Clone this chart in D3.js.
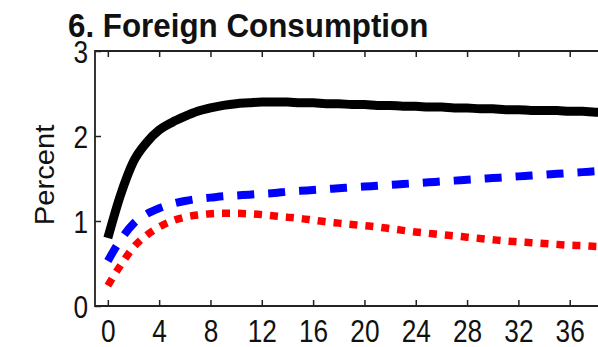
<!DOCTYPE html>
<html><head><meta charset="utf-8">
<script src="https://cdn.jsdelivr.net/npm/d3@7/dist/d3.min.js"></script>
<style>body{margin:0;background:#fff}svg{display:block}</style>
</head><body>
<svg id="c" width="598" height="347"></svg>
<script>
const title = "6. Foreign Consumption";
const yLabel = "Percent";
const horizon = d3.range(0, 41);
const xTicks = [0,4,8,12,16,20,24,28,32,36];
const yTicks = [0,1,2,3];
const black = [0.80,1.31,1.70,1.92,2.07,2.16,2.23,2.29,2.33,2.36,2.38,2.39,2.40,2.40,2.40,2.39,2.39,2.38,2.38,2.37,2.37,2.36,2.36,2.35,2.35,2.34,2.34,2.33,2.33,2.32,2.32,2.31,2.31,2.30,2.30,2.30,2.29,2.29,2.28,2.28,2.28];
const blue = [0.53,0.78,0.97,1.08,1.15,1.20,1.235,1.26,1.275,1.29,1.30,1.31,1.32,1.33,1.345,1.355,1.365,1.375,1.385,1.395,1.405,1.415,1.425,1.435,1.445,1.455,1.465,1.475,1.485,1.495,1.505,1.515,1.525,1.535,1.545,1.555,1.565,1.575,1.585,1.595,1.605];
const red = [0.24,0.48,0.69,0.83,0.93,1.00,1.045,1.07,1.085,1.09,1.09,1.085,1.075,1.06,1.045,1.03,1.01,0.99,0.975,0.96,0.945,0.93,0.91,0.89,0.87,0.855,0.84,0.825,0.81,0.795,0.78,0.765,0.755,0.745,0.735,0.725,0.715,0.71,0.70,0.695,0.69];

const svg = d3.select("#c");
const L = 95, T = 51, B = 306;
const x = d3.scaleLinear().domain([-1, 40]).range([L, L + 41*12.83]);
const y = d3.scaleLinear().domain([0, 3]).range([B, T]);
const W = 598;

svg.append("defs").append("clipPath").attr("id","clip")
  .append("rect").attr("x", L).attr("y", T).attr("width", W - L + 40).attr("height", B - T);

const line = d3.line().x((d,i)=>x(horizon[i])).y(d=>y(d)).curve(d3.curveMonotoneX);
const g = svg.append("g").attr("clip-path","url(#clip)");
g.append("path").datum(red).attr("d", line).attr("fill","none")
  .attr("stroke","#ff0000").attr("stroke-width",7.5).attr("stroke-dasharray","8,8");
g.append("path").datum(blue).attr("d", line).attr("fill","none")
  .attr("stroke","#0000ff").attr("stroke-width",8).attr("stroke-dasharray","17,14");
g.append("path").datum(black).attr("d", line).attr("fill","none")
  .attr("stroke","#000").attr("stroke-width",9);

const sx = 0.82;
// bottom axis
const gb = svg.append("g").attr("transform",`translate(0,${B})`)
  .call(d3.axisBottom(x).tickValues(xTicks).tickSize(-6).tickPadding(0).tickSizeOuter(0));
gb.selectAll("text").attr("font-family","Liberation Sans, Arial, sans-serif")
  .attr("font-size",32).attr("fill","#111").attr("y",13).attr("dy","0.71em")
  .attr("transform",`scale(${sx},1)`);
// top axis ticks
const gt = svg.append("g").attr("transform",`translate(0,${T})`)
  .call(d3.axisTop(x).tickValues(xTicks).tickSize(-6).tickFormat("").tickSizeOuter(0));
// left axis
const gl = svg.append("g").attr("transform",`translate(${L},0)`)
  .call(d3.axisLeft(y).tickValues(yTicks).tickSize(-6).tickSizeOuter(0).tickFormat(d3.format("d")));
gl.selectAll("text").attr("font-family","Liberation Sans, Arial, sans-serif")
  .attr("font-size",32).attr("fill","#111").attr("x",-7/sx).attr("dy","0.35em")
  .attr("transform",`scale(${sx},1)`);
[gb,gt,gl].forEach(a=>{
  a.selectAll(".domain").remove();
  a.selectAll("line").attr("stroke","#222").attr("stroke-width",1.5);
});
// frame
svg.append("path").attr("d",`M${W+5},${T}H${L}V${B}H${W+5}`)
  .attr("fill","none").attr("stroke","#222").attr("stroke-width",1.8);

// title
svg.append("text").attr("transform","translate(68,37) scale(0.95,1)")
  .attr("font-family","Liberation Sans, Arial, sans-serif").attr("font-weight","bold")
  .attr("font-size",33).attr("fill","#111").text(title);
// y label
svg.append("text").attr("transform","translate(54,175) rotate(-90) scale(1.08,1)")
  .attr("text-anchor","middle").attr("font-family","Liberation Sans, Arial, sans-serif")
  .attr("font-size",27).attr("fill","#111").text(yLabel);
</script>
</body></html>
